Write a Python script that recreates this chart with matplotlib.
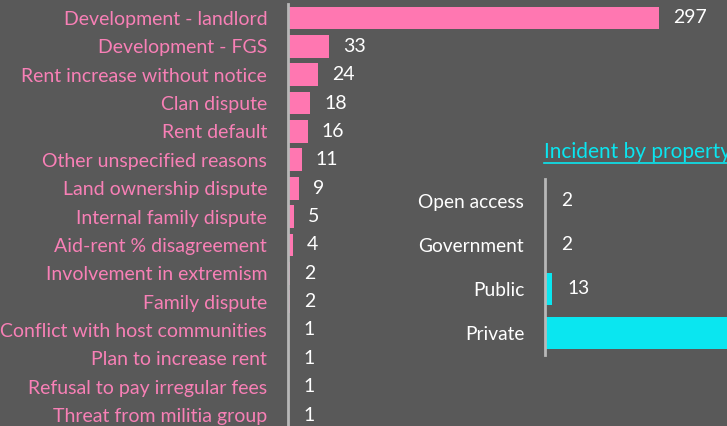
import matplotlib
matplotlib.use("Agg")
import matplotlib.pyplot as plt
from matplotlib.lines import Line2D

# Data
reasons = ["Development - landlord", "Development - FGS", "Rent increase without notice",
           "Clan dispute", "Rent default", "Other unspecified reasons",
           "Land ownership dispute", "Internal family dispute", "Aid-rent % disagreement",
           "Involvement in extremism", "Family dispute", "Conflict with host communities",
           "Plan to increase rent", "Refusal to pay irregular fees", "Threat from militia group"]
reason_counts = [297, 33, 24, 18, 16, 11, 9, 5, 4, 2, 2, 1, 1, 1, 1]

property_types = ["Open access", "Government", "Public", "Private"]
property_counts = [2, 2, 13, 408]
inset_title = "Incident by property type"

BG = "#595959"
PINK = "#ff77b1"
PINK_TXT = "#f880b6"
CYAN = "#0ae6f0"
AXIS = "#b8b8b8"

plt.rcParams['font.family'] = ['Lato', 'DejaVu Sans']

W, H = 727, 426
fig = plt.figure(figsize=(W / 100, H / 100), dpi=100)
fig.patch.set_facecolor(BG)

def fx(px):
    return px / W

def fy(py):
    return 1 - py / H

# Main chart
n = len(reasons)
step = 28.36
top = 18 - step / 2
bottom = top + n * step
ax = fig.add_axes([fx(288), fy(bottom), fx(W - 288), (bottom - top) / H])
ax.set_facecolor("none")
ypos = list(range(n))
ax.barh(ypos, reason_counts, height=0.8, color=PINK)
ax.set_ylim(n - 0.5, -0.5)
xmax = (W - 288) / 1.249
ax.set_xlim(0, xmax)
ax.set_yticks(ypos)
ax.set_yticklabels(reasons, color=PINK_TXT, fontsize=14)
ax.tick_params(axis='y', length=0, pad=15)
ax.set_xticks([])
for s in ["top", "right", "bottom"]:
    ax.spines[s].set_visible(False)
ax.spines["left"].set_color(AXIS)
ax.spines["left"].set_linewidth(2)
for y, v in zip(ypos, reason_counts):
    ax.annotate(str(v), (v, y), xytext=(10, 0), textcoords="offset points",
                va="center", ha="left", color="white", fontsize=14)

# Inset chart
m = len(property_types)
istep = 44
itop = 201 - istep / 2
ibottom = itop + m * istep
ax2 = fig.add_axes([fx(545), fy(ibottom), fx(W - 545), (ibottom - itop) / H])
ax2.set_facecolor("none")
ipos = list(range(m))
ax2.barh(ipos, property_counts, height=0.72, color=CYAN)
ax2.set_ylim(m - 0.5, -0.5)
ixmax = (W - 545) / 0.54
ax2.set_xlim(0, ixmax)
ax2.set_yticks(ipos)
ax2.set_yticklabels(property_types, color="white", fontsize=13.8)
ax2.tick_params(axis='y', length=0, pad=15)
ax2.set_xticks([])
for s in ["top", "right", "bottom"]:
    ax2.spines[s].set_visible(False)
ax2.spines["left"].set_color(AXIS)
ax2.spines["left"].set_linewidth(2)
for y, v in zip(ipos, property_counts):
    if v < ixmax * 0.8:
        ax2.annotate(str(v), (v, y), xytext=(11, 0), textcoords="offset points",
                     va="center", ha="left", color="white", fontsize=13.8)

fig.text(fx(544), fy(152), inset_title, color=CYAN, fontsize=15, ha="left", va="center")
fig.add_artist(Line2D([fx(544), fx(W)], [fy(163), fy(163)], color=CYAN, lw=1.2))

fig.savefig("out.png", dpi=100, facecolor=BG)
